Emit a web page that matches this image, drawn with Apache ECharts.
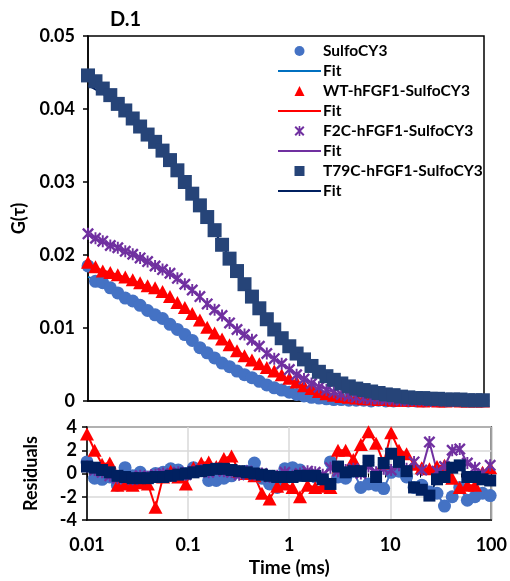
<!DOCTYPE html>
<html>
<head>
<meta charset="utf-8">
<script src="https://cdn.jsdelivr.net/npm/echarts@6/dist/echarts.min.js"></script>
<style>
  html, body { margin: 0; padding: 0; background: #fff; }
  #chart { width: 510px; height: 581px; }
</style>
</head>
<body>
<div id="chart"></div>
<script>
// lag times (ms)
const times = [0.01, 0.0119, 0.0141, 0.0168, 0.02, 0.0238, 0.0283, 0.0336, 0.04, 0.0476,
  0.0566, 0.0673, 0.08, 0.0951, 0.113, 0.135, 0.16, 0.19, 0.226, 0.269,
  0.32, 0.381, 0.453, 0.538, 0.64, 0.761, 0.905, 1.08, 1.28, 1.52,
  1.81, 2.15, 2.56, 3.04, 3.62, 4.31, 5.12, 6.09, 7.24, 8.61,
  10.2, 12.2, 14.5, 17.2, 20.5, 24.4, 29.0, 34.4, 41.0, 48.7,
  57.9, 68.9, 81.9, 97.4];

// G(tau) data
const sulfoG = [0.0185, 0.0164, 0.0162, 0.0155, 0.0148, 0.0141, 0.0137, 0.0131, 0.0124, 0.0118,
  0.0113, 0.0105, 0.0098, 0.0091, 0.0083, 0.0073, 0.0066, 0.0059, 0.0052, 0.0047,
  0.0041, 0.0036, 0.0032, 0.0027, 0.0022, 0.0018, 0.0015, 0.0012, 0.0009, 0.0007,
  0.0005, 0.0004, 0.0003, 0.0002, 0.0002, 0.0001, 0.0001, 0.0001, 0.0000, 0.0001,
  0.0000, 0.0000, 0.0001, 0.0000, 0.0000, 0.0000, -0.0001, 0.0000, 0.0000, -0.0001,
  0.0000, 0.0000, 0.0000, 0.0000];
const wtG = [0.0190, 0.0184, 0.0178, 0.0176, 0.0173, 0.0170, 0.0166, 0.0162, 0.0158, 0.0155,
  0.0150, 0.0143, 0.0135, 0.0128, 0.0120, 0.0111, 0.0101, 0.0093, 0.0085, 0.0077,
  0.0069, 0.0062, 0.0056, 0.0051, 0.0046, 0.0041, 0.0036, 0.0031, 0.0026, 0.0021,
  0.0017, 0.0013, 0.0010, 0.0008, 0.0006, 0.0005, 0.0004, 0.0003, 0.0003, 0.0002,
  0.0002, 0.0001, 0.0001, 0.0001, 0.0001, 0.0000, 0.0001, 0.0000, 0.0000, 0.0001,
  0.0000, 0.0000, 0.0000, 0.0000];
const f2cG = [0.0229, 0.0223, 0.0219, 0.0213, 0.0210, 0.0205, 0.0201, 0.0196, 0.0191, 0.0185,
  0.0180, 0.0175, 0.0168, 0.0160, 0.0152, 0.0143, 0.0133, 0.0125, 0.0117, 0.0107,
  0.0098, 0.0091, 0.0084, 0.0075, 0.0065, 0.0058, 0.0051, 0.0043, 0.0036, 0.0030,
  0.0024, 0.0019, 0.0015, 0.0012, 0.0009, 0.0007, 0.0005, 0.0004, 0.0003, 0.0003,
  0.0002, 0.0002, 0.0001, 0.0001, 0.0001, 0.0001, 0.0000, 0.0001, 0.0000, 0.0000,
  0.0001, 0.0000, 0.0000, 0.0000];
const t79cG = [0.0446, 0.0438, 0.0428, 0.0419, 0.0407, 0.0398, 0.0387, 0.0376, 0.0365, 0.0355,
  0.0343, 0.0330, 0.0316, 0.0300, 0.0284, 0.0268, 0.0252, 0.0234, 0.0214, 0.0195,
  0.0178, 0.0160, 0.0143, 0.0127, 0.0112, 0.0098, 0.0086, 0.0075, 0.0065, 0.0057,
  0.0048, 0.0040, 0.0034, 0.0029, 0.0024, 0.0020, 0.0017, 0.0015, 0.0013, 0.0011,
  0.0009, 0.0008, 0.0006, 0.0005, 0.0004, 0.0004, 0.0003, 0.0003, 0.0002, 0.0002,
  0.0002, 0.0001, 0.0001, 0.0001];

// fits
const sulfoFit = [0.0170, 0.0166, 0.0161, 0.0156, 0.0150, 0.0144, 0.0137, 0.0130, 0.0123, 0.0116,
  0.0109, 0.0101, 0.0094, 0.0086, 0.0079, 0.0071, 0.0064, 0.0057, 0.0051, 0.0045,
  0.0040, 0.0035, 0.0030, 0.0026, 0.0022, 0.0018, 0.0015, 0.0012, 0.0010, 0.0008,
  0.0006, 0.0005, 0.0004, 0.0003, 0.0002, 0.0002, 0.0001, 0.0001, 0.0001, 0.0001,
  0, 0, 0, 0, 0, 0, 0, 0, 0, 0, 0, 0, 0, 0];
const wtFit = [0.0186, 0.0182, 0.0179, 0.0176, 0.0173, 0.0169, 0.0165, 0.0161, 0.0157, 0.0152,
  0.0146, 0.0140, 0.0133, 0.0126, 0.0118, 0.0110, 0.0102, 0.0093, 0.0085, 0.0077,
  0.0069, 0.0062, 0.0055, 0.0049, 0.0044, 0.0039, 0.0034, 0.0029, 0.0025, 0.0021,
  0.0017, 0.0014, 0.0011, 0.0009, 0.0007, 0.0005, 0.0004, 0.0003, 0.0002, 0.0002,
  0.0001, 0.0001, 0.0001, 0.0001, 0, 0, 0, 0, 0, 0, 0, 0, 0, 0];
const f2cFit = [0.0227, 0.0223, 0.0218, 0.0214, 0.0210, 0.0205, 0.0201, 0.0196, 0.0190, 0.0185,
  0.0179, 0.0173, 0.0166, 0.0159, 0.0151, 0.0142, 0.0133, 0.0124, 0.0115, 0.0106,
  0.0097, 0.0089, 0.0081, 0.0073, 0.0065, 0.0058, 0.0051, 0.0044, 0.0037, 0.0031,
  0.0025, 0.0020, 0.0016, 0.0012, 0.0009, 0.0007, 0.0005, 0.0004, 0.0003, 0.0002,
  0.0002, 0.0001, 0.0001, 0.0001, 0, 0, 0, 0, 0, 0, 0, 0, 0, 0];
const t79cFit = [0.0432, 0.0427, 0.0421, 0.0414, 0.0406, 0.0397, 0.0387, 0.0376, 0.0365, 0.0353,
  0.0340, 0.0327, 0.0313, 0.0298, 0.0282, 0.0266, 0.0249, 0.0232, 0.0214, 0.0196,
  0.0178, 0.0161, 0.0145, 0.0129, 0.0114, 0.0100, 0.0088, 0.0077, 0.0067, 0.0058,
  0.0049, 0.0042, 0.0035, 0.0029, 0.0024, 0.0020, 0.0017, 0.0014, 0.0012, 0.0010,
  0.0008, 0.0007, 0.0006, 0.0005, 0.0004, 0.0003, 0.0003, 0.0002, 0.0002, 0.0002,
  0.0001, 0.0001, 0.0001, 0.0001];

// residuals
const sulfoRes = [1.0, -0.4, -0.5, -0.3, -1.0, 0.5, -0.2, 0.1, -0.3, 0.0,
  0.1, 0.4, 0.3, 0.0, 0.5, 0.3, -0.6, -0.6, -0.4, -0.2,
  0.1, 0.2, 0.9, -0.4, -0.9, -1.2, 0.4, 0.5, 0.3, -0.2,
  -0.3, -0.5, 1.0, -0.3, -0.4, 0.2, -1.2, -0.9, -1.0, -1.3,
  0.1, 0.2, -0.3, -1.2, -1.0, -1.6, -1.7, -2.8, -2.0, -1.2,
  -2.3, -2.0, -1.7, -1.9];
const wtRes = [3.4, 2.0, 0.8, 0.9, -1.0, -0.9, -1.0, -0.8, -0.9, -2.9,
  -0.3, 0.2, -0.3, -0.9, 0.5, 0.9, 1.0, 0.6, 1.3, 1.5,
  0.2, 0.0, -0.2, -1.7, -2.2, -1.1, -0.9, -1.2, -2.0, -1.0,
  -1.2, -1.1, -1.2, 2.0, 2.0, 1.2, 2.5, 3.6, 2.6, 0.9,
  3.5, 2.0, 1.7, 0.8, 0.5, 0.4, 0.6, 0.7, -0.4, -1.2,
  -1.0, -1.0, 0.1, 0.5];
const f2cRes = [0.6, 0.3, 0.1, -0.2, -0.4, -0.3, -0.5, -0.2, -0.3, -0.1,
  0.0, -0.2, 0.1, -0.1, 0.2, 0.3, 0.1, 0.4, 0.2, 0.1,
  -0.1, 0.2, -0.1, 0.0, -0.3, -0.2, 0.1, -0.2, 0.0, 0.2,
  0.1, -0.1, 0.5, 0.2, 0.3, 0.4, 0.0, 0.6, 0.1, 0.4,
  0.3, 0.7, 0.4, 1.0, 0.3, 2.7, 0.2, 0.6, 2.0, 2.1,
  0.9, 0.5, 0.0, 0.7];
const t79cRes = [0.6, 0.5, 0.3, 0.1, -0.2, -0.3, -0.4, -0.4, -0.4, -0.3,
  -0.3, -0.2, -0.1, 0.0, 0.1, 0.2, 0.3, 0.4, 0.4, 0.3,
  0.2, 0.1, 0.0, -0.1, -0.2, -0.3, -0.3, -0.3, -0.2, -0.2,
  -0.2, -0.5, -0.9, 0.6, 0.1, 0.2, 0.2, 1.1, -0.3, 0.9,
  1.7, 1.0, 0.2, -1.2, -1.4, -1.9, -0.5, -0.3, 0.5, 0.7,
  -0.3, -0.3, -0.5, -0.6];

// minor ticks on the time axis
const decades = [0.01, 0.1, 1, 10];
const multipliers = [1, 2, 3, 4, 5, 6, 7, 8, 9];

const FONT = 'Lato';
const starPath = 'path://M0,1.4L1.4,0L10,8.6L8.6,10Z M8.6,0L10,1.4L1.4,10L0,8.6Z M4.2,0L5.8,0L5.8,10L4.2,10Z';
const triPath = 'path://M5,0L10,10L0,10Z';
const sqPath = 'path://M0,0L10,0L10,10L0,10Z';
const linePath = 'path://M0,0L43,0L43,2L0,2Z';

const pairs = (ys) => times.map((t, i) => [t, ys[i]]);

let minorTicks = [];
decades.forEach(d => multipliers.forEach(m => minorTicks.push(+(d * m).toPrecision(2))));
minorTicks.push(100);

const myChart = echarts.init(document.getElementById('chart'));

const boldLabel = { color: '#000', fontFamily: FONT, fontWeight: 'bold', fontSize: 18 };

myChart.setOption({
  animation: false,
  backgroundColor: '#fff',
  title: {
    text: 'D.1',
    left: 105,
    top: 5,
    textStyle: { color: '#000', fontFamily: FONT, fontWeight: 'bold', fontSize: 20 }
  },
  legend: {
    orient: 'vertical',
    left: 273,
    top: 38,
    itemWidth: 43,
    itemHeight: 10,
    itemGap: 4,
    data: [
      { name: 'SulfoCY3', icon: 'circle' },
      { name: 'Fit 1', icon: linePath },
      { name: 'WT-hFGF1-SulfoCY3', icon: triPath },
      { name: 'Fit 2', icon: linePath },
      { name: 'F2C-hFGF1-SulfoCY3', icon: starPath },
      { name: 'Fit 3', icon: linePath },
      { name: 'T79C-hFGF1-SulfoCY3', icon: sqPath },
      { name: 'Fit 4', icon: linePath }
    ],
    formatter: (name) => name.indexOf('Fit') === 0 ? 'Fit' : name,
    textStyle: { color: '#000', fontFamily: FONT, fontWeight: 'bold', fontSize: 15.5, lineHeight: 15.3, padding: [0, 0, 0, -3] }
  },
  grid: [
    { left: 88, top: 36, width: 396, height: 365, show: true, borderColor: '#000', borderWidth: 1.5 },
    { left: 87, top: 427, width: 406, height: 93, show: true, borderColor: '#000', borderWidth: 1.5 }
  ],
  xAxis: [
    {
      type: 'log', gridIndex: 0, min: 0.01, max: 100, logBase: 10,
      axisLine: { show: true, onZero: false, lineStyle: { color: '#000', width: 1.5 } },
      axisTick: { show: false },
      axisLabel: { show: false },
      splitLine: { show: false }
    },
    {
      type: 'log', gridIndex: 1, min: 0.01, max: 100, logBase: 10,
      name: 'Time (ms)', nameLocation: 'middle', nameGap: 38,
      nameTextStyle: { color: '#000', fontFamily: FONT, fontWeight: 'bold', fontSize: 19 },
      axisLine: { show: true, onZero: false, lineStyle: { color: '#000', width: 1.5 } },
      axisTick: { show: false },
      axisLabel: Object.assign({ margin: 16 }, boldLabel),
      splitLine: { show: true, lineStyle: { color: '#d9d9d9', width: 1.5 } }
    },
    {
      type: 'log', gridIndex: 1, min: 0.01, max: 100, logBase: 10, position: 'bottom',
      axisLine: { show: false },
      axisTick: { show: true, customValues: minorTicks, length: 4, lineStyle: { color: '#000', width: 1 } },
      axisLabel: { show: false },
      splitLine: { show: false }
    }
  ],
  yAxis: [
    {
      type: 'value', gridIndex: 0, min: 0, max: 0.05, interval: 0.01,
      name: 'G(\u03c4)', nameLocation: 'middle', nameGap: 58,
      nameTextStyle: { color: '#000', fontFamily: FONT, fontWeight: 'bold', fontSize: 18 },
      axisLine: { show: true, lineStyle: { color: '#000', width: 1.5 } },
      axisTick: { show: true, length: 5, lineStyle: { color: '#000', width: 1.5 } },
      axisLabel: Object.assign({ margin: 13 }, boldLabel),
      splitLine: { show: false }
    },
    {
      type: 'value', gridIndex: 1, min: -4, max: 4, interval: 2,
      name: 'Residuals', nameLocation: 'middle', nameGap: 47,
      nameTextStyle: { color: '#000', fontFamily: FONT, fontWeight: 'bold', fontSize: 18 },
      axisLine: { show: true, lineStyle: { color: '#000', width: 1.5 } },
      axisTick: { show: true, length: 5, lineStyle: { color: '#000', width: 1.5 } },
      axisLabel: Object.assign({ margin: 10 }, boldLabel),
      splitLine: { show: true, lineStyle: { color: '#d9d9d9', width: 1.5 } }
    }
  ],
  series: [
    // top panel: fits under the markers
    { name: 'Fit 1', type: 'line', xAxisIndex: 0, yAxisIndex: 0, symbol: 'none', smooth: true, z: 1,
      lineStyle: { color: '#0070c0', width: 2 }, itemStyle: { color: '#0070c0' }, data: pairs(sulfoFit) },
    { name: 'Fit 2', type: 'line', xAxisIndex: 0, yAxisIndex: 0, symbol: 'none', smooth: true, z: 1,
      lineStyle: { color: '#ff0000', width: 2 }, itemStyle: { color: '#ff0000' }, data: pairs(wtFit) },
    { name: 'Fit 3', type: 'line', xAxisIndex: 0, yAxisIndex: 0, symbol: 'none', smooth: true, z: 1,
      lineStyle: { color: '#7030a0', width: 2 }, itemStyle: { color: '#7030a0' }, data: pairs(f2cFit) },
    { name: 'Fit 4', type: 'line', xAxisIndex: 0, yAxisIndex: 0, symbol: 'none', smooth: true, z: 1,
      lineStyle: { color: '#002060', width: 2 }, itemStyle: { color: '#002060' }, data: pairs(t79cFit) },
    { name: 'SulfoCY3', type: 'scatter', xAxisIndex: 0, yAxisIndex: 0, symbol: 'circle', symbolSize: 13, z: 2,
      itemStyle: { color: '#4472c4', opacity: 1 }, data: pairs(sulfoG) },
    { name: 'WT-hFGF1-SulfoCY3', type: 'scatter', xAxisIndex: 0, yAxisIndex: 0, symbol: 'triangle', symbolSize: [14, 13], z: 2,
      itemStyle: { color: '#ff0000', opacity: 1 }, data: pairs(wtG) },
    { name: 'F2C-hFGF1-SulfoCY3', type: 'scatter', xAxisIndex: 0, yAxisIndex: 0, symbol: starPath, symbolSize: 12, z: 2,
      itemStyle: { color: '#7030a0', opacity: 1 }, data: pairs(f2cG) },
    { name: 'T79C-hFGF1-SulfoCY3', type: 'scatter', xAxisIndex: 0, yAxisIndex: 0, symbol: 'rect', symbolSize: 14, z: 2,
      itemStyle: { color: '#264478', opacity: 1 }, data: pairs(t79cG) },
    // residuals
    { name: 'res SulfoCY3', type: 'line', xAxisIndex: 1, yAxisIndex: 1, symbol: 'circle', symbolSize: 13, showAllSymbol: true,
      lineStyle: { color: '#4472c4', width: 2 }, itemStyle: { color: '#4472c4' }, data: pairs(sulfoRes) },
    { name: 'res WT', type: 'line', xAxisIndex: 1, yAxisIndex: 1, symbol: 'triangle', symbolSize: [14, 13], showAllSymbol: true,
      lineStyle: { color: '#ff0000', width: 2 }, itemStyle: { color: '#ff0000' }, data: pairs(wtRes) },
    { name: 'res F2C', type: 'line', xAxisIndex: 1, yAxisIndex: 1, symbol: starPath, symbolSize: 12, showAllSymbol: true,
      lineStyle: { color: '#7030a0', width: 2 }, itemStyle: { color: '#7030a0' }, data: pairs(f2cRes) },
    { name: 'res T79C', type: 'line', xAxisIndex: 1, yAxisIndex: 1, symbol: 'rect', symbolSize: 12, showAllSymbol: true,
      lineStyle: { color: '#002060', width: 2 }, itemStyle: { color: '#002060' }, data: pairs(t79cRes) }
  ]
});
</script>
</body>
</html>
